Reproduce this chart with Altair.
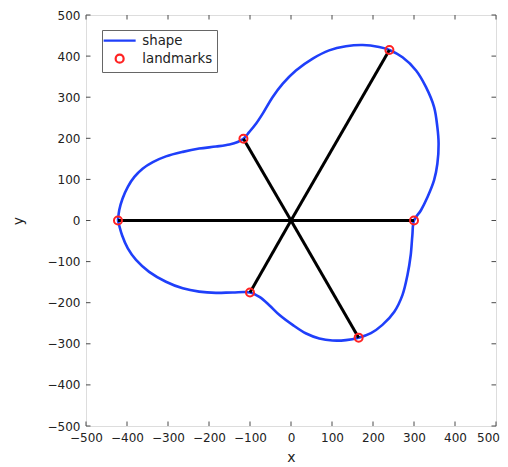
import altair as alt
import pandas as pd

# closed outline (starts and ends at the left landmark)
shape_x = [-422, -419, -411, -398, -382, -362, -337, -305, -264, -224, -183, -150, -130,
           -116, -102, -85, -69, -45, -20, 12, 53, 93, 134, 175, 215,
           240, 272, 305, 329, 349, 357, 360, 357, 349, 333, 317,
           300, 296, 292, 284, 272, 252, 223, 195,
           165, 134, 101, 69, 37, 4, -28, -53, -77,
           -100, -142, -183, -224, -264, -305, -346, -378, -398, -412, -422]
shape_y = [0, 25, 53, 82, 106, 126, 142, 156, 167, 175, 180, 185, 191,
           199, 215, 236, 260, 300, 333, 365, 394, 414, 424, 427, 422,
           415, 397, 365, 325, 276, 227, 187, 138, 98, 57, 25,
           0, -36, -84, -133, -181, -222, -254, -274,
           -285, -291, -292, -287, -275, -254, -230, -206, -186,
           -175, -175, -176, -173, -165, -149, -125, -96, -68, -36, 0]

landmark_x = [-422, -116, 240, 300, 165, -100]
landmark_y = [0, 199, 415, 0, -285, -175]
center_x = 0
center_y = 0

ticks = [-500, -400, -300, -200, -100, 0, 100, 200, 300, 400, 500]
series_names = ["shape", "landmarks"]

W, H = 410, 411
TL = 4.5  # inward tick length, px
FONT = "DejaVu Sans"
BLUE = "#1f3ffa"
RED = "#ff2222"
FRAME = "#4a4a4a"

shape_df = pd.DataFrame({"x": shape_x, "y": shape_y, "i": list(range(len(shape_x)))})
lm_df = pd.DataFrame({"x": landmark_x, "y": landmark_y, "series": "landmarks"})
spoke_df = pd.DataFrame({"x": landmark_x, "y": landmark_y,
                         "cx": [center_x] * len(landmark_x), "cy": [center_y] * len(landmark_y)})
tick_df = pd.DataFrame({"t": ticks})

xscale = alt.Scale(domain=[-500, 500], nice=False, zero=False)
yscale = alt.Scale(domain=[-500, 500], nice=False, zero=False)

lab = dict(labelFont=FONT, labelFontSize=12, labelColor="#222", titleFont=FONT,
           titleFontSize=14, titleFontWeight="normal", titleColor="#222",
           labelOverlap=False, labelFlush=False)

x_main = alt.Axis(orient="bottom", values=ticks, ticks=False, domain=False, grid=False,
                  labelPadding=6, title="x", titlePadding=7,
                  labelOffset={"condition": {"test": "datum.value === 500", "value": -8}, "value": 0},
                  **lab)
y_main = alt.Axis(orient="left", values=ticks, ticks=False, domain=False, grid=False,
                  labelPadding=6, title="y", titlePadding=22, **lab)


def X(field):
    return alt.X(field, type="quantitative", scale=xscale, axis=x_main)


def Y(field):
    return alt.Y(field, type="quantitative", scale=yscale, axis=y_main)


line = alt.Chart(shape_df).mark_line(color=BLUE, strokeWidth=2.6, interpolate="catmull-rom").encode(
    x=X("x"), y=Y("y"), order="i:Q",
)

spokes = alt.Chart(spoke_df).mark_rule(color="black", strokeWidth=3).encode(
    x=X("cx"), y=Y("cy"), x2="x:Q", y2="y:Q",
)

# inward tick marks on all four sides of the box
tick_rule = alt.Chart(tick_df).mark_rule(color=FRAME, strokeWidth=1)
t_bottom = tick_rule.encode(x=X("t"), y=alt.value(H), y2=alt.value(H - TL))
t_top = tick_rule.encode(x=X("t"), y=alt.value(0), y2=alt.value(TL))
t_left = tick_rule.encode(y=Y("t"), x=alt.value(0), x2=alt.value(TL))
t_right = tick_rule.encode(y=Y("t"), x=alt.value(W), x2=alt.value(W - TL))

legend = alt.Legend(
    title=None, orient="none", legendX=16, legendY=15,
    strokeColor="#666", fillColor="white", padding=4, rowPadding=3,
    labelFont=FONT, labelFontSize=13.3, labelColor="#222", symbolStrokeWidth=2.2,
    symbolSize=64, symbolOffset=7, labelOffset=16,
)

points = alt.Chart(lm_df).mark_point(filled=False, strokeWidth=2, size=64, opacity=1).encode(
    x=X("x"), y=Y("y"),
    color=alt.Color("series:N", scale=alt.Scale(domain=series_names, range=[BLUE, RED]), legend=legend),
    shape=alt.Shape("series:N", scale=alt.Scale(domain=series_names, range=["M-4,0H4", "circle"]), legend=legend),
)

chart = alt.layer(line, spokes, t_bottom, t_top, t_left, t_right, points).properties(
    width=W, height=H,
    autosize=alt.AutoSizeParams(type="none"),
    padding={"left": 78, "top": 7, "right": 4, "bottom": 41},
).configure_view(stroke=FRAME, strokeWidth=1).configure(background="white")

chart.save("out.html", embed_options={"renderer": "svg", "actions": False})
